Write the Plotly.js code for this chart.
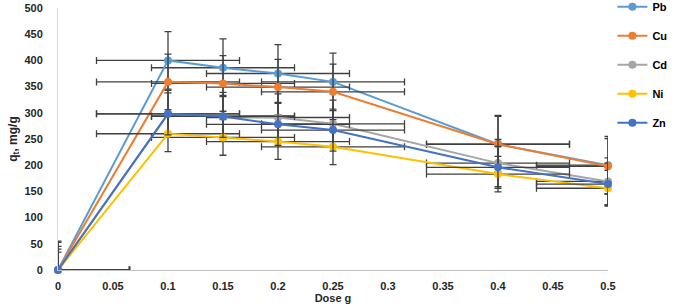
<!DOCTYPE html>
<html>
<head>
<meta charset="utf-8">
<script src="https://cdn.plot.ly/plotly-3.0.1.min.js"></script>
<style>html,body{margin:0;padding:0;background:#fff}#chart{width:675px;height:306px}</style>
</head>
<body>
<div id="chart"></div>
<script>
const dose = [0, 0.1, 0.15, 0.2, 0.25, 0.4, 0.5];
const seriesNames = ["Pb", "Cu", "Cd", "Ni", "Zn"];
const Pb = [0, 400, 386, 375, 359, 240, 200];
const Cu = [0, 359, 356, 349, 340, 240, 198];
const Cd = [0, 298, 294, 291, 279, 204, 169];
const Ni = [0, 260, 253, 245, 235, 183, 156];
const Zn = [0, 298, 293, 278, 267, 196, 164];
const yErr = {Pb: 55, Cu: 53, Cd: 45, Ni: 34, Zn: 40};
const xErr = 0.065;
const colors = {Pb: "#5B9BD5", Cu: "#ED7D31", Cd: "#A5A5A5", Ni: "#FFC000", Zn: "#4472C4"};
const values = {Pb, Cu, Cd, Ni, Zn};

const xMin = 0, xMax = 0.5;
// horizontal error bars are clipped at the axis ends, as in the original
const xPlus = dose.map(d => Math.min(xErr, xMax - d));
const xMinus = dose.map(d => Math.min(xErr, d - xMin));

const traces = seriesNames.map(n => ({
  type: "scatter",
  mode: "lines+markers",
  name: n,
  legendgroup: n,
  x: dose,
  y: values[n],
  cliponaxis: false,
  line: {color: colors[n], width: 2},
  marker: {color: colors[n], size: 8},
  error_y: {type: "constant", value: yErr[n], color: "#404040", thickness: 1.3, width: 3.5},
  error_x: {type: "data", array: xPlus, arrayminus: xMinus, symmetric: false, color: "#404040", thickness: 1.3, width: 3.5}
}));

const fam = "Liberation Sans, Arial, sans-serif";
const tickFont = {family: fam, size: 11, color: "#262626", weight: "bold"};

const layout = {
  width: 675, height: 306,
  margin: {l: 58, r: 67, t: 8, b: 36, autoexpand: false},
  paper_bgcolor: "#fff", plot_bgcolor: "#fff",
  showlegend: true,
  legend: {
    x: 1.008, y: 1.06, xanchor: "left", yanchor: "top",
    font: {family: fam, size: 11, color: "#000", weight: "bold"},
    tracegroupgap: 10, itemwidth: 30, bgcolor: "rgba(0,0,0,0)"
  },
  xaxis: {
    range: [xMin, xMax], dtick: 0.05, tick0: 0,
    showgrid: false, zeroline: false,
    showline: true, linecolor: "#bfbfbf", linewidth: 1,
    ticks: "", ticklabelstandoff: 6,
    tickfont: tickFont,
    title: {text: "Dose g", font: {family: fam, size: 11, color: "#262626", weight: "bold"}, standoff: 0}
  },
  yaxis: {
    range: [0, 500], dtick: 50, tick0: 0,
    showgrid: false, zeroline: false,
    showline: true, linecolor: "#d9d9d9", linewidth: 1,
    ticks: "", ticklabelstandoff: 12,
    tickfont: tickFont,
    title: {text: "q<sub>t</sub>, mg/g", font: {family: fam, size: 12, color: "#262626", weight: "bold"}, standoff: 4}
  }
};

Plotly.newPlot("chart", traces, layout, {displayModeBar: false, staticPlot: true});
</script>
</body>
</html>
